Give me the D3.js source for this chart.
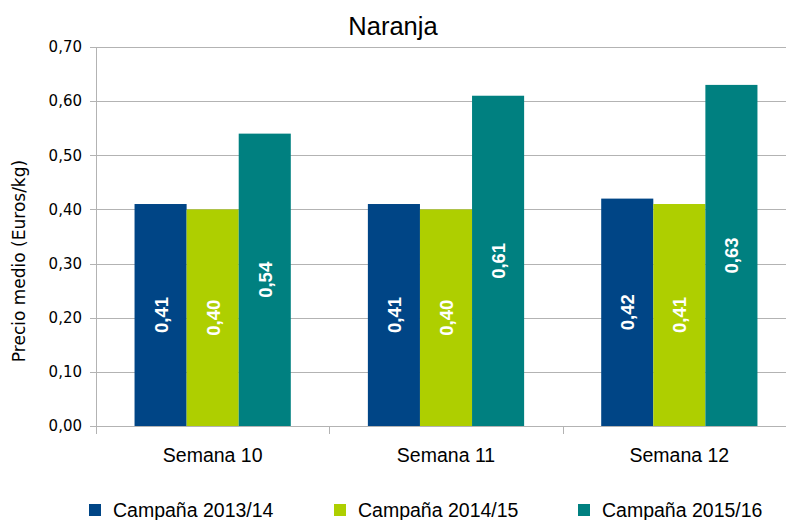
<!DOCTYPE html>
<html><head><meta charset="utf-8">
<script src="https://cdn.jsdelivr.net/npm/d3@7"></script>
<style>body{margin:0;background:#fff}svg{display:block}text{font-family:"Liberation Sans",Arial,sans-serif}</style>
</head><body><svg id="c" width="786" height="520"></svg>
<script>
const categories = ["Semana 10", "Semana 11", "Semana 12"];
const seriesNames = ["Campaña 2013/14", "Campaña 2014/15", "Campaña 2015/16"];
const s2013 = [0.41, 0.41, 0.42];
const s2014 = [0.40, 0.40, 0.41];
const s2015 = [0.54, 0.61, 0.63];
const yTicks = [0, 0.1, 0.2, 0.3, 0.4, 0.5, 0.6, 0.7];
const colors = ["#004586", "#aecf00", "#008080"];
const series = [s2013, s2014, s2015];

const svg = d3.select("#c");
const L = 96, R = 796, T = 47, B = 426;
const x = d3.scaleBand().domain(categories).range([L, R]).paddingInner(0).paddingOuter(0);
const x1 = d3.scaleBand().domain(seriesNames).range([0, x.bandwidth()]).paddingInner(0).paddingOuter(0.74);
const y = d3.scaleLinear().domain([0, 0.7]).range([B, T]);
const fmt = v => d3.format(".2f")(v).replace(".", ",");

// gridlines
svg.append("g").selectAll("line").data(yTicks).join("line")
  .attr("x1", L).attr("x2", R).attr("y1", d => Math.round(y(d)) + 0.5).attr("y2", d => Math.round(y(d)) + 0.5)
  .attr("stroke", "#b3b3b3").attr("stroke-width", 1);

// y axis
const ya = svg.append("g").attr("transform", `translate(${L},0)`)
  .call(d3.axisLeft(y).tickValues(yTicks).tickFormat(fmt).tickSize(6).tickPadding(8));
ya.select(".domain").attr("stroke", "#b3b3b3").attr("shape-rendering", "crispEdges");
ya.selectAll(".tick line").attr("stroke", "#b3b3b3").attr("shape-rendering", "crispEdges");
ya.selectAll("text").attr("font-size", 15).attr("fill", "#000").style("font-family", "'DejaVu Sans', sans-serif");

// x axis
const xa = svg.append("g").attr("transform", `translate(0,${B})`)
  .call(d3.axisBottom(x).tickSize(0).tickPadding(22));
xa.select(".domain").remove();
xa.selectAll("text").attr("font-size", 19.5).attr("fill", "#000");
// category boundary ticks
const bounds = categories.map(c => x(c)).concat([x(categories[categories.length-1]) + x.bandwidth()]);
svg.append("g").selectAll("line").data(bounds).join("line")
  .attr("x1", d => Math.round(d) + 0.5).attr("x2", d => Math.round(d) + 0.5)
  .attr("y1", B).attr("y2", B + 8).attr("stroke", "#b3b3b3");

// bars
const groups = svg.append("g").selectAll("g").data(categories).join("g")
  .attr("transform", c => `translate(${x(c)},0)`);
series.forEach((s, si) => {
  groups.append("rect")
    .attr("x", x1(seriesNames[si])).attr("width", x1.bandwidth())
    .attr("y", (c, i) => y(s[i])).attr("height", (c, i) => B - y(s[i]))
    .attr("fill", colors[si]);
  groups.append("text")
    .attr("transform", (c, i) => `translate(${x1(seriesNames[si]) + x1.bandwidth()/2 + 7},${(y(s[i]) + B)/2}) rotate(-90)`)
    .attr("text-anchor", "middle").attr("font-size", 18.5).attr("font-weight", "bold")
    .attr("fill", "#fff").text((c, i) => fmt(s[i]));
});

// axis title
svg.append("text").attr("transform", `translate(25,${(150 + 372)/2}) rotate(-90)`)
  .attr("text-anchor", "middle").attr("font-size", 17).style("font-family", "'DejaVu Sans', sans-serif")
  .text("Precio medio (Euros/kg)");

// title
svg.append("text").attr("x", 393).attr("y", 35).attr("text-anchor", "middle")
  .attr("font-size", 25.5).text("Naranja");

// legend
const legX = [89, 334, 578];
const lg = svg.append("g").selectAll("g").data(seriesNames).join("g")
  .attr("transform", (d, i) => `translate(${legX[i]},504)`);
lg.append("rect").attr("width", 12).attr("height", 12).attr("fill", (d, i) => colors[i]);
lg.append("text").attr("x", 24).attr("y", 13).attr("font-size", 19.5).text(d => d);
</script></body></html>
